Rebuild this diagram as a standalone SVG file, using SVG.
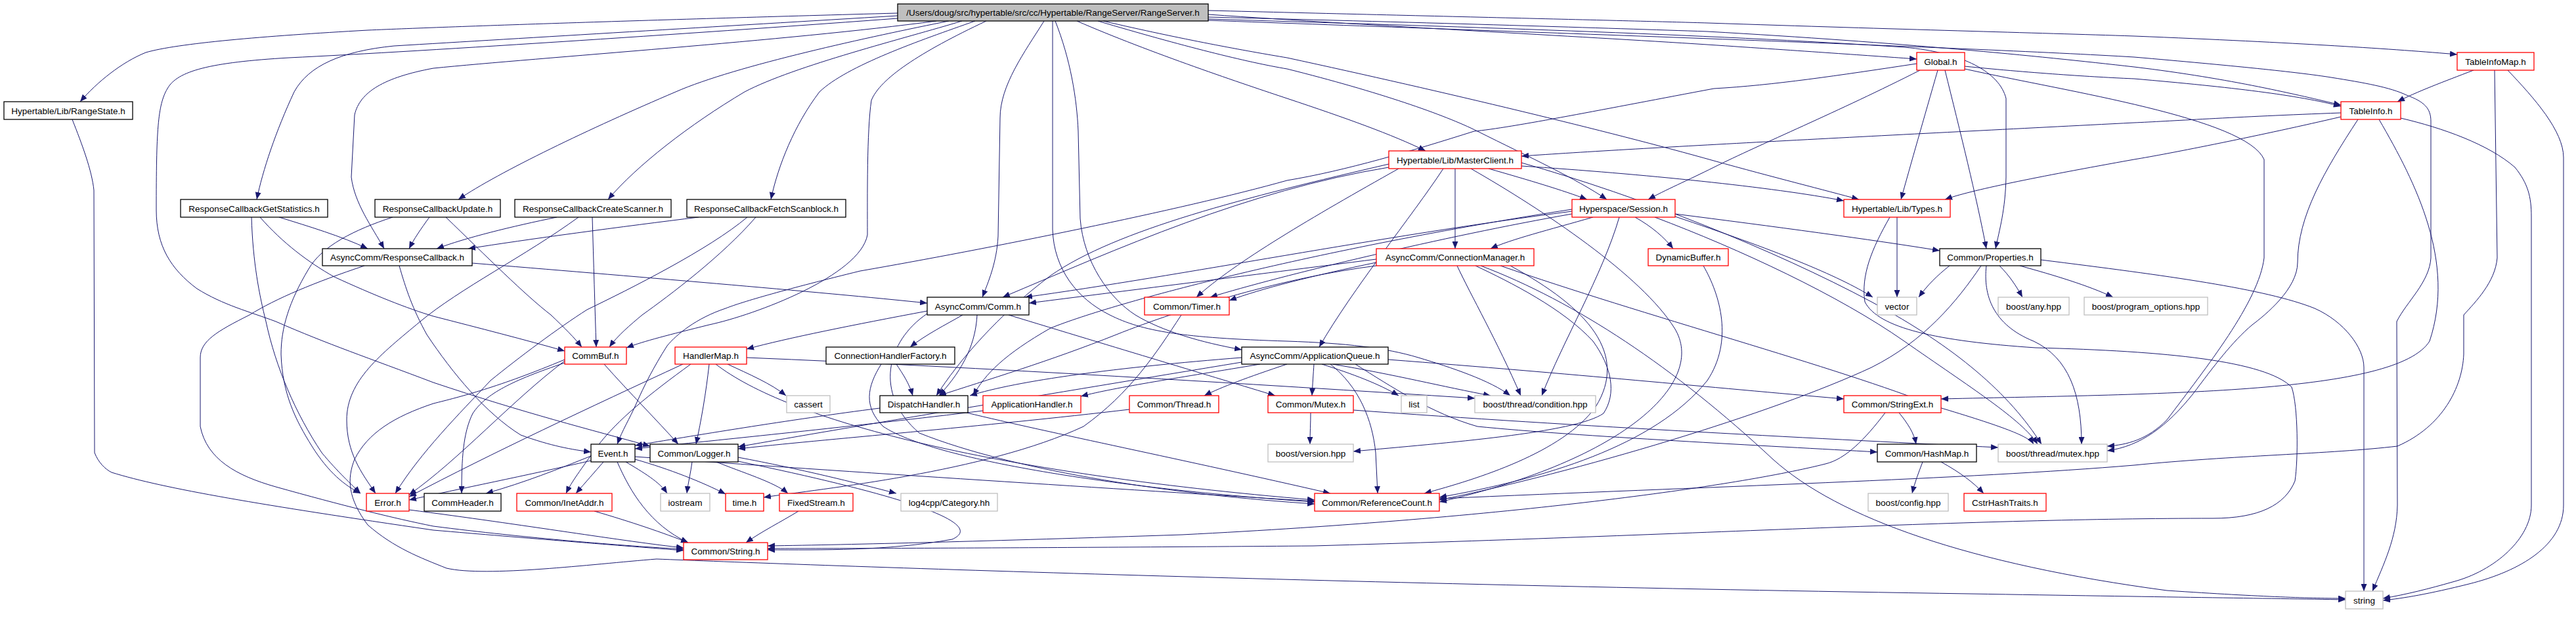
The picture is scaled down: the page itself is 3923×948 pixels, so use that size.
<svg xmlns="http://www.w3.org/2000/svg" width="3923" height="948" viewBox="0 0 3923 948">
<defs>
<marker id="ah" markerUnits="userSpaceOnUse" markerWidth="12" markerHeight="9" refX="11" refY="4.5" orient="auto"><path d="M0,0 L11,4.5 L0,9 z" fill="#191970"/></marker>
<style>
.e path{fill:none;stroke:#191970;stroke-width:1;marker-end:url(#ah)}
.n rect{fill:#fff;stroke-width:1.3}
.b rect{stroke:#000}
.r rect{stroke:#ff0000}
.g rect{stroke:#bfbfbf}
.n text{font-family:"Liberation Sans",Arial,sans-serif;font-size:13.5px;text-anchor:middle;fill:#000}
</style>
</defs>
<rect x="0" y="0" width="3923" height="948" fill="#fff"/>
<g id="edges" class="e">
<path d="M1367,20 C1000,30 700,40 560,46 C400,55 270,66 222,80 C185,95 148,125 122,155"/>
<path d="M1367,24 C1100,40 800,58 600,70 C520,78 470,100 448,140 C420,200 400,260 391,304"/>
<path d="M1426,32 C1200,62 820,88 660,104 C585,118 548,140 540,175 L535,270 C540,310 566,345 585,379"/>
<path d="M1445,32 C1330,55 1120,100 1029,140 C900,195 760,262 698,304"/>
<path d="M1465,32 C1380,58 1210,100 1134,140 C1050,190 970,252 926,304"/>
<path d="M1485,32 C1400,62 1290,100 1248,140 C1210,190 1185,252 1174,304"/>
<path d="M1590,32 C1560,80 1523,130 1523,180 L1520,360 C1518,400 1505,430 1496,453"/>
<path d="M1607,32 C1630,90 1640,150 1642,200 L1645,333 C1650,400 1690,455 1729,480 C1770,505 1830,522 1891,533"/>
<path d="M1603,32 L1603,350 C1605,410 1640,455 1690,480 C1740,505 1800,515 1960,520 C2050,523 2110,530 2160,545 C2210,560 2270,580 2300,603"/>
<path d="M1367,28 C1100,48 650,78 440,88 C320,95 270,108 255,135 C240,160 238,200 238,320 C238,375 260,410 300,440 C340,465 380,475 420,490 C500,525 560,545 660,583 C800,630 900,655 990,680"/>
<path d="M1640,32 C1750,80 1900,130 1960,150 C2050,180 2120,205 2171,230"/>
<path d="M1672,32 C1800,70 1900,95 1960,105 C2100,140 2200,175 2250,200 C2330,240 2400,272 2447,304"/>
<path d="M1680,32 C1800,60 1900,78 1960,88 C2200,140 2450,200 2610,245 C2700,270 2780,290 2831,304"/>
<path d="M1840,22 C2100,40 2400,55 2600,68 C2750,78 2850,85 2919,90"/>
<path d="M1840,16 C2200,25 2500,32 2600,35 C2900,45 3100,50 3250,55 C3500,65 3650,75 3742,83"/>
<path d="M1840,26 C2200,35 2450,43 2600,48 C2900,65 3100,85 3250,102 C3400,120 3500,145 3565,160"/>
<path d="M1840,29 C2200,40 2600,52 2900,72 C2990,80 3045,110 3055,150 L3055,270 C3054,320 3045,350 3039,379"/>
<path d="M1840,31 C2300,48 3000,72 3250,87 C3400,100 3500,110 3550,118 C3600,126 3640,133 3665,145 C3692,155 3702,165 3702,185 L3702,393 C3700,430 3665,460 3650,490 L3651,770 C3650,820 3630,860 3613,901"/>
<path d="M1502,32 C1400,80 1340,120 1327,153 C1320,200 1321,300 1321,358 C1310,420 1150,480 1080,495 C1020,510 980,520 954,530"/>
<path d="M2992,101 C3100,112 3200,118 3250,120 C3400,133 3500,145 3565,162"/>
<path d="M2951,107 C2930,180 2910,250 2895,304"/>
<path d="M2962,107 C2985,200 3010,300 3025,379"/>
<path d="M2924,107 C2800,170 2680,220 2610,255 C2570,275 2535,290 2510,304"/>
<path d="M2919,97 C2800,115 2700,130 2610,135 C2450,165 2300,195 2245,200 C2150,230 2050,260 1960,275 C1800,320 1500,380 1310,413 C1200,440 1130,460 1105,470 C1060,485 1030,510 1016,527 C995,560 980,590 970,613 C958,640 948,655 940,677"/>
<path d="M2992,105 C3150,140 3420,180 3448,243 L3448,393 C3440,460 3360,560 3300,640 C3270,670 3240,678 3209,680"/>
<path d="M3565,172 C3400,178 3300,185 3250,187 C2900,205 2500,225 2317,238"/>
<path d="M3565,178 C3450,205 3300,235 3250,243 C3100,270 3000,290 2962,304"/>
<path d="M3656,180 C3720,195 3790,220 3830,255 C3850,280 3855,300 3855,330 L3855,770 C3855,820 3800,870 3735,887 C3700,897 3665,906 3629,912"/>
<path d="M3591,182 C3540,260 3499,330 3499,400 C3499,440 3450,480 3430,495 C3400,520 3370,560 3340,600 C3300,650 3260,680 3209,687"/>
<path d="M3623,182 C3680,280 3740,400 3700,520 C3650,600 3300,600 2956,608"/>
<path d="M3767,107 C3720,125 3680,140 3651,155"/>
<path d="M3819,107 C3860,150 3904,200 3904,240 L3904,770 C3904,830 3840,870 3760,890 C3700,905 3660,912 3629,915"/>
<path d="M3799,107 L3803,393 C3800,430 3770,460 3752,480 L3752,540 C3750,590 3720,650 3651,680 C3550,692 3400,694 3250,709 C3000,730 2600,742 2192,760"/>
<path d="M2267,257 C2330,275 2380,290 2417,304"/>
<path d="M2216,257 L2216,379"/>
<path d="M2198,257 C2150,330 2060,440 2009,529"/>
<path d="M2115,255 C1900,290 1700,380 1527,453"/>
<path d="M2317,253 C2500,265 2700,285 2808,306"/>
<path d="M2115,250 C1900,300 1700,350 1600,420 C1520,480 1460,550 1426,603"/>
<path d="M2130,257 C2000,330 1880,400 1822,453"/>
<path d="M2317,248 C2500,300 2700,380 2850,460 C2980,530 3060,600 3109,677"/>
<path d="M2240,257 C2350,320 2500,420 2550,500 C2600,580 2480,700 2192,765"/>
<path d="M2426,331 C2360,350 2300,365 2270,379"/>
<path d="M2490,331 C2515,345 2535,362 2548,379"/>
<path d="M2394,322 C2100,360 1800,420 1561,453"/>
<path d="M2394,326 C2200,360 1950,420 1843,453"/>
<path d="M2551,326 C2700,345 2850,365 2954,382"/>
<path d="M2551,330 C2700,380 2800,420 2852,453"/>
<path d="M2466,331 C2440,420 2380,520 2348,603"/>
<path d="M2520,331 C2650,380 2800,450 2900,520 C3000,590 3080,640 3103,677"/>
<path d="M2394,319 C2000,380 1700,460 1600,500 C1530,540 1500,570 1482,603"/>
<path d="M2096,395 C1900,420 1700,445 1567,462"/>
<path d="M2096,400 C2000,420 1920,440 1872,458"/>
<path d="M2096,405 C1960,422 1800,470 1700,510 C1600,550 1500,580 1430,603"/>
<path d="M2219,405 C2240,450 2280,520 2316,603"/>
<path d="M2300,405 C2420,470 2480,540 2430,620 C2380,690 2250,730 2169,752"/>
<path d="M2285,405 C2500,480 2800,560 2950,620 C3050,650 3090,665 3097,677"/>
<path d="M2247,405 C2300,430 2380,470 2426,520 C2455,560 2462,600 2442,630 C2400,660 2200,675 2061,688"/>
<path d="M2255,405 C2400,460 2550,560 2700,700 C2800,790 3000,860 3300,900 C3450,910 3520,912 3572,912"/>
<path d="M2594,405 C2620,450 2640,520 2600,580 C2520,680 2350,730 2192,758"/>
<path d="M2889,331 L2889,453"/>
<path d="M2878,331 C2850,380 2834,420 2840,460 C2860,500 2950,520 3100,530 C3300,535 3450,550 3490,590 C3500,620 3500,700 3495,733 C3480,770 3440,790 3370,790 C3000,790 2600,815 2000,832 C1600,835 1300,836 1169,836"/>
<path d="M2969,405 C2950,420 2935,435 2922,453"/>
<path d="M3045,405 C3060,420 3070,435 3080,453"/>
<path d="M3076,405 C3130,420 3180,435 3218,453"/>
<path d="M3108,396 C3300,420 3450,440 3525,470 C3570,490 3600,530 3600,560 L3600,901"/>
<path d="M3017,405 C2980,460 2930,520 2850,560 C2700,630 2400,720 2192,762"/>
<path d="M3025,405 C3020,450 3035,495 3097,520 C3150,545 3170,600 3170,677"/>
<path d="M2892,629 C2905,645 2915,660 2918,677"/>
<path d="M2871,629 C2840,670 2810,700 2780,707 C2650,740 2300,790 1800,815 C1500,825 1300,830 1169,832"/>
<path d="M2928,704 C2922,720 2916,735 2912,752"/>
<path d="M2956,704 C2985,720 3005,735 3021,752"/>
<path d="M2114,548 C2400,570 2600,590 2808,608"/>
<path d="M2064,555 C2120,590 2180,630 2250,650 C2400,665 2700,680 2859,689"/>
<path d="M1919,555 C1800,575 1700,590 1646,604"/>
<path d="M1960,555 C1900,575 1860,590 1834,603"/>
<path d="M2001,555 C2000,570 1999,585 1998,603"/>
<path d="M2013,555 C2060,570 2100,585 2130,603"/>
<path d="M2029,555 C2120,570 2200,590 2270,603"/>
<path d="M2026,555 C2070,590 2090,640 2095,690 L2098,752"/>
<path d="M1891,545 C1700,560 1550,580 1477,603"/>
<path d="M1891,552 C1600,600 1300,650 1124,681"/>
<path d="M1996,629 C1996,645 1995,660 1995,677"/>
<path d="M2061,625 C2400,650 2800,670 3043,682"/>
<path d="M1720,624 C1500,650 1250,670 1124,684"/>
<path d="M1799,480 C1760,540 1720,600 1650,650 C1500,720 1250,745 1163,758"/>
<path d="M1472,629 C1600,660 1800,700 2026,752"/>
<path d="M1340,622 C1200,640 1050,665 967,679"/>
<path d="M1497,626 C1300,650 1100,670 967,684"/>
<path d="M1365,555 C1375,570 1385,585 1390,603"/>
<path d="M1342,555 C1320,590 1315,620 1345,650 C1420,700 1700,745 2002,765"/>
<path d="M1466,480 C1440,495 1410,510 1386,529"/>
<path d="M1488,480 C1486,520 1470,560 1430,603"/>
<path d="M1412,474 C1300,495 1200,515 1137,532"/>
<path d="M1536,480 C1700,530 1850,575 1942,603"/>
<path d="M1412,478 C1350,520 1330,600 1400,660 C1550,720 1800,755 2002,768"/>
<path d="M1108,555 C1140,570 1175,585 1197,603"/>
<path d="M1080,555 C1075,600 1068,640 1060,677"/>
<path d="M1052,555 C990,600 940,640 910,680 C885,715 870,735 862,752"/>
<path d="M1040,555 C900,620 750,690 623,757"/>
<path d="M1137,545 C1500,560 1900,585 2246,607"/>
<path d="M1090,555 C1200,640 1500,720 2002,762"/>
<path d="M860,550 C780,610 700,700 623,754"/>
<path d="M860,553 C780,580 740,600 720,630 C705,660 703,700 703,752"/>
<path d="M920,555 C960,600 1000,640 1033,677"/>
<path d="M860,548 C760,590 700,605 660,615 C600,635 560,660 540,700 C528,730 530,760 560,800 C600,835 640,850 680,866 C740,880 900,860 1000,852 C1200,860 2000,890 3000,905 C3300,910 3450,912 3572,914"/>
<path d="M900,695 C850,715 800,735 740,752"/>
<path d="M919,704 C905,720 892,735 877,752"/>
<path d="M940,704 C960,750 990,800 1048,827"/>
<path d="M953,704 C980,720 1005,735 1016,752"/>
<path d="M967,700 C1020,715 1070,735 1105,753"/>
<path d="M900,702 C800,725 700,745 623,762"/>
<path d="M967,696 C1300,720 1700,745 2002,764"/>
<path d="M1054,704 C1052,720 1048,735 1046,752"/>
<path d="M1091,704 C1130,720 1180,735 1200,752"/>
<path d="M1124,697 C1220,715 1300,735 1365,752"/>
<path d="M1124,703 C1400,760 1500,800 1450,822 C1350,840 1250,838 1169,838"/>
<path d="M1216,779 C1190,795 1160,810 1136,827"/>
<path d="M905,779 C960,795 1010,812 1048,827"/>
<path d="M110,182 C125,220 140,260 143,290 L144,690 C150,705 160,715 170,720 C250,745 400,770 660,808 C800,820 950,832 1041,839"/>
<path d="M555,405 C480,430 420,455 380,480 C330,505 305,520 305,545 L305,650 C315,700 360,725 420,742 C520,770 600,790 660,802 C800,820 950,832 1041,837"/>
<path d="M623,777 C800,800 950,825 1041,835"/>
<path d="M719,401 C950,420 1250,445 1412,462"/>
<path d="M608,405 C618,440 628,470 650,510 C690,570 740,630 793,663 C840,680 870,685 900,689"/>
<path d="M425,331 C470,345 520,360 560,379"/>
<path d="M654,331 C640,350 630,365 623,379"/>
<path d="M848,331 C780,345 710,362 665,379"/>
<path d="M1064,331 C950,345 800,365 713,379"/>
<path d="M383,331 C385,400 395,450 405,490 C420,560 450,630 490,690 C515,720 535,738 549,752"/>
<path d="M598,331 C540,350 490,375 470,410 C440,460 428,500 428,540 C430,600 450,640 475,680 C500,720 525,740 549,752"/>
<path d="M881,331 C800,390 700,440 640,490 C580,540 528,580 528,640 C528,690 550,720 572,752"/>
<path d="M1138,331 C1080,380 960,440 894,472 C850,500 790,545 747,580 C700,630 640,690 602,752"/>
<path d="M396,331 C430,370 470,400 509,422 C570,450 620,470 660,482 C730,500 800,518 860,535"/>
<path d="M679,331 C740,390 800,450 839,480 C860,500 875,515 886,529"/>
<path d="M902,331 C904,400 906,470 908,529"/>
<path d="M1151,331 C1100,390 1020,450 978,480 C960,495 940,512 928,529"/>
</g>
<g id="n_root" class="n b"><rect x="1367" y="6" width="473" height="26" style="fill:#bfbfbf"/><text x="1603.5" y="24">/Users/doug/src/hypertable/src/cc/Hypertable/RangeServer/RangeServer.h</text></g>
<g id="n_rs" class="n b"><rect x="6" y="155" width="196" height="27"/><text x="104" y="173.5">Hypertable/Lib/RangeState.h</text></g>
<g id="n_gs" class="n b"><rect x="275" y="304" width="224" height="27"/><text x="387" y="322.5">ResponseCallbackGetStatistics.h</text></g>
<g id="n_ru" class="n b"><rect x="571" y="304" width="191" height="27"/><text x="666.5" y="322.5">ResponseCallbackUpdate.h</text></g>
<g id="n_rc" class="n b"><rect x="784" y="304" width="238" height="27"/><text x="903" y="322.5">ResponseCallbackCreateScanner.h</text></g>
<g id="n_rf" class="n b"><rect x="1046" y="304" width="242" height="27"/><text x="1167" y="322.5">ResponseCallbackFetchScanblock.h</text></g>
<g id="n_rcb" class="n b"><rect x="491" y="379" width="228" height="26"/><text x="605" y="397">AsyncComm/ResponseCallback.h</text></g>
<g id="n_comm" class="n b"><rect x="1412" y="453" width="155" height="27"/><text x="1489.5" y="471.5">AsyncComm/Comm.h</text></g>
<g id="n_timer" class="n r"><rect x="1743" y="453" width="129" height="27"/><text x="1807.5" y="471.5">Common/Timer.h</text></g>
<g id="n_mc" class="n r"><rect x="2115" y="230" width="202" height="27"/><text x="2216" y="248.5">Hypertable/Lib/MasterClient.h</text></g>
<g id="n_ses" class="n r"><rect x="2394" y="304" width="157" height="27"/><text x="2472.5" y="322.5">Hyperspace/Session.h</text></g>
<g id="n_cm" class="n r"><rect x="2096" y="379" width="240" height="26"/><text x="2216" y="397">AsyncComm/ConnectionManager.h</text></g>
<g id="n_db" class="n r"><rect x="2510" y="379" width="122" height="26"/><text x="2571" y="397">DynamicBuffer.h</text></g>
<g id="n_glob" class="n r"><rect x="2919" y="80" width="73" height="27"/><text x="2955.5" y="98.5">Global.h</text></g>
<g id="n_types" class="n r"><rect x="2808" y="304" width="162" height="27"/><text x="2889" y="322.5">Hypertable/Lib/Types.h</text></g>
<g id="n_props" class="n b"><rect x="2954" y="379" width="154" height="26"/><text x="3031" y="397">Common/Properties.h</text></g>
<g id="n_vec" class="n g"><rect x="2859" y="453" width="60" height="27"/><text x="2889" y="471.5">vector</text></g>
<g id="n_any" class="n g"><rect x="3043" y="453" width="108" height="27"/><text x="3097" y="471.5">boost/any.hpp</text></g>
<g id="n_po" class="n g"><rect x="3174" y="453" width="188" height="27"/><text x="3268" y="471.5">boost/program_options.hpp</text></g>
<g id="n_tim" class="n r"><rect x="3742" y="80" width="117" height="27"/><text x="3800.5" y="98.5">TableInfoMap.h</text></g>
<g id="n_ti" class="n r"><rect x="3565" y="155" width="91" height="27"/><text x="3610.5" y="173.5">TableInfo.h</text></g>
<g id="n_err" class="n r"><rect x="558" y="752" width="65" height="27"/><text x="590.5" y="770.5">Error.h</text></g>
<g id="n_ch" class="n b"><rect x="646" y="752" width="117" height="27"/><text x="704.5" y="770.5">CommHeader.h</text></g>
<g id="n_cb" class="n r"><rect x="860" y="529" width="94" height="26"/><text x="907" y="547">CommBuf.h</text></g>
<g id="n_hm" class="n r"><rect x="1028" y="529" width="109" height="26"/><text x="1082.5" y="547">HandlerMap.h</text></g>
<g id="n_chf" class="n b"><rect x="1258" y="529" width="196" height="26"/><text x="1356" y="547">ConnectionHandlerFactory.h</text></g>
<g id="n_cass" class="n g"><rect x="1198" y="603" width="66" height="26"/><text x="1231" y="621">cassert</text></g>
<g id="n_ev" class="n b"><rect x="900" y="677" width="67" height="27"/><text x="933.5" y="695.5">Event.h</text></g>
<g id="n_log" class="n b"><rect x="990" y="677" width="134" height="27"/><text x="1057" y="695.5">Common/Logger.h</text></g>
<g id="n_inet" class="n r"><rect x="787" y="752" width="145" height="27"/><text x="859.5" y="770.5">Common/InetAddr.h</text></g>
<g id="n_ios" class="n g"><rect x="1006" y="752" width="75" height="27"/><text x="1043.5" y="770.5">iostream</text></g>
<g id="n_time" class="n r"><rect x="1105" y="752" width="58" height="27"/><text x="1134" y="770.5">time.h</text></g>
<g id="n_fs" class="n r"><rect x="1187" y="752" width="112" height="27"/><text x="1243" y="770.5">FixedStream.h</text></g>
<g id="n_str" class="n r"><rect x="1041" y="827" width="128" height="26"/><text x="1105" y="845">Common/String.h</text></g>
<g id="n_dh" class="n b"><rect x="1340" y="603" width="134" height="26"/><text x="1407" y="621">DispatchHandler.h</text></g>
<g id="n_ah" class="n r"><rect x="1497" y="603" width="149" height="26"/><text x="1571.5" y="621">ApplicationHandler.h</text></g>
<g id="n_thr" class="n r"><rect x="1720" y="603" width="136" height="26"/><text x="1788" y="621">Common/Thread.h</text></g>
<g id="n_mut" class="n r"><rect x="1931" y="603" width="130" height="26"/><text x="1996" y="621">Common/Mutex.h</text></g>
<g id="n_aq" class="n b"><rect x="1891" y="529" width="223" height="26"/><text x="2002.5" y="547">AsyncComm/ApplicationQueue.h</text></g>
<g id="n_l4" class="n g"><rect x="1372" y="752" width="147" height="27"/><text x="1445.5" y="770.5">log4cpp/Category.hh</text></g>
<g id="n_bv" class="n g"><rect x="1931" y="677" width="130" height="27"/><text x="1996" y="695.5">boost/version.hpp</text></g>
<g id="n_list" class="n g"><rect x="2134" y="603" width="39" height="26"/><text x="2153.5" y="621">list</text></g>
<g id="n_cond" class="n g"><rect x="2246" y="603" width="184" height="26"/><text x="2338" y="621">boost/thread/condition.hpp</text></g>
<g id="n_ref" class="n r"><rect x="2002" y="752" width="190" height="27"/><text x="2097" y="770.5">Common/ReferenceCount.h</text></g>
<g id="n_se" class="n r"><rect x="2808" y="603" width="148" height="26"/><text x="2882" y="621">Common/StringExt.h</text></g>
<g id="n_hmap" class="n b"><rect x="2859" y="677" width="151" height="27"/><text x="2934.5" y="695.5">Common/HashMap.h</text></g>
<g id="n_bmut" class="n g"><rect x="3043" y="677" width="166" height="27"/><text x="3126" y="695.5">boost/thread/mutex.hpp</text></g>
<g id="n_bconf" class="n g"><rect x="2845" y="752" width="122" height="27"/><text x="2906" y="770.5">boost/config.hpp</text></g>
<g id="n_cstr" class="n r"><rect x="2991" y="752" width="125" height="27"/><text x="3053.5" y="770.5">CstrHashTraits.h</text></g>
<g id="n_string" class="n g"><rect x="3572" y="901" width="57" height="27"/><text x="3600.5" y="919.5">string</text></g>
</svg>
